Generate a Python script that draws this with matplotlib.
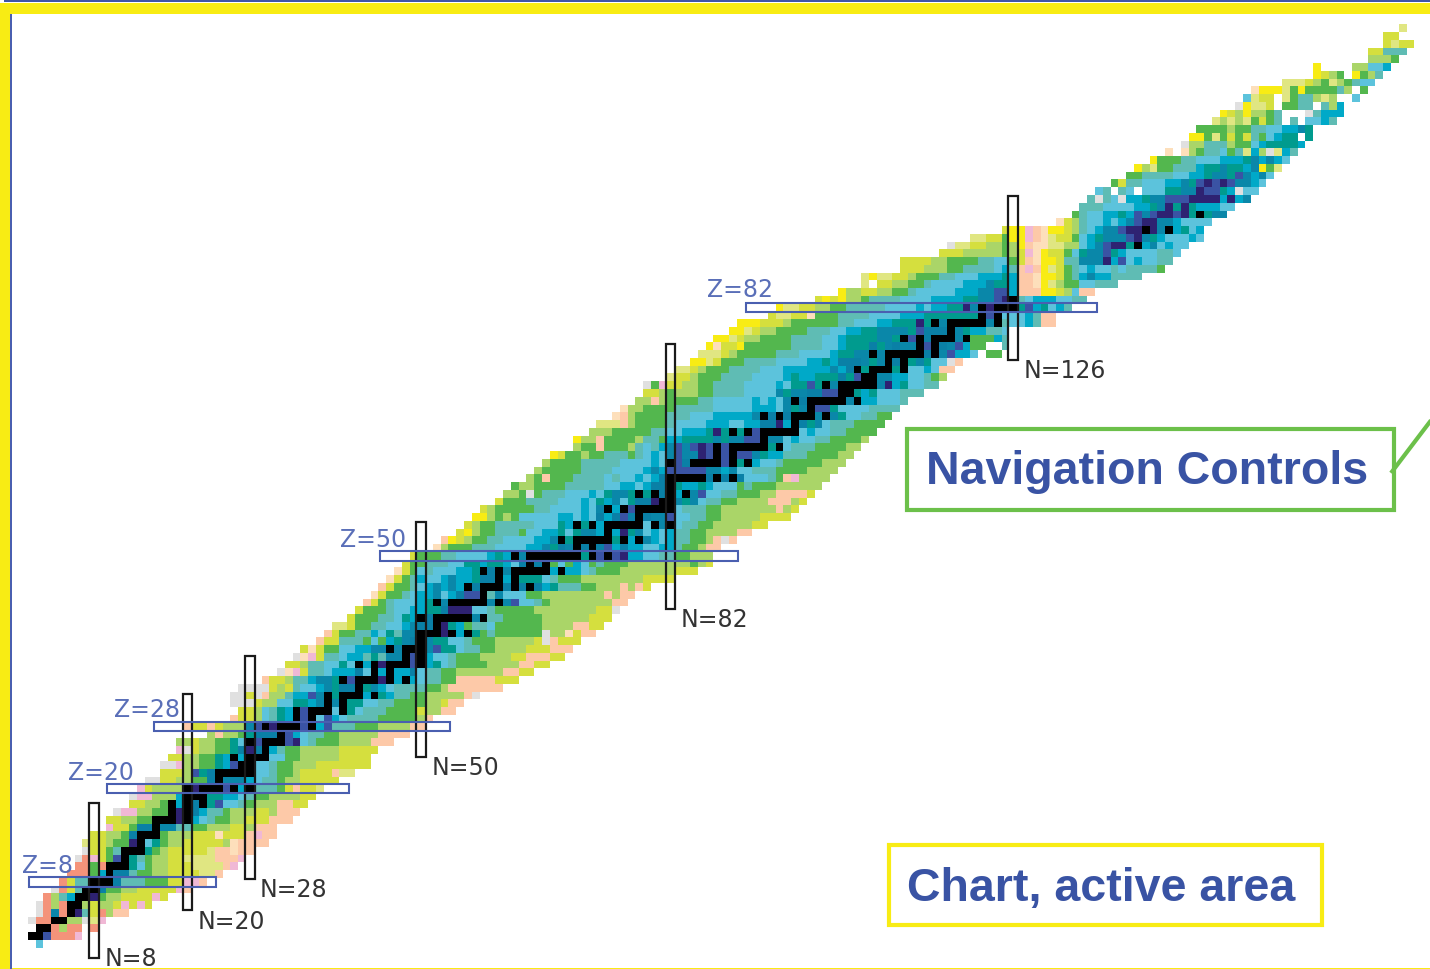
import numpy as np
import matplotlib
matplotlib.use('Agg')
import matplotlib.pyplot as plt
from matplotlib.colors import ListedColormap
from matplotlib.patches import Rectangle

# letter -> colour of one nuclide cell, w = no colour, s = black cell
palette = {
    'a': '#0a80a6', 'b': '#2e2272', 'c': '#3a53a4', 'd': '#0a87a9', 'e': '#00a9c8',
    'f': '#009b8e', 'g': '#5cc3dc', 'h': '#5fbcb4', 'i': '#53b74e', 'j': '#aad568',
    'k': '#d5df3e', 'l': '#e0e682', 'm': '#f8ec14', 'n': '#fdc9a8', 'o': '#fddfbb',
    'p': '#f0b8d5', 'q': '#e0e0e0', 'r': '#f4937a', 'w': '#ffffff', 's': '#000000',
}

# first N of each row, index = Z
row_start = [1, 0, 1, 0, 1, 1, 2, 3, 4, 5, 6, 6, 7, 7, 8, 10, 10, 11, 13, 13,
             14, 15, 17, 17, 18, 19, 19, 23, 20, 26, 27, 26, 26, 27, 30, 32, 33, 34, 35, 37,
             38, 39, 41, 42, 43, 44, 45, 46, 47, 48, 49, 52, 53, 55, 56, 57, 58, 60, 61, 62,
             64, 65, 66, 67, 70, 70, 72, 73, 75, 76, 78, 79, 79, 82, 83, 85, 86, 87, 88, 90,
             91, 95, 96, 101, 104, 107, 107, 112, 112, 117, 118, 121, 125, 132, 134, 135, 136, 137, 139, 141,
             142, 144, 146, 148, 149, 150, 152, 153, 155, 156, 157, 161, 165, 165, 172, 172, 174, 174, 176]

row_cells = [
    "g", "aacrrrp", "aarjrrwr", "qrraajjqlp", "qrdrabhkrjnn", "qrjraajkjjkpkpk",
    "rjheaabijjkkkkpk", "qrkhaaaiijjkkkkkpn", "rkhhaaaahhhiiikkppn", "rrrieaaahiijjkkkklln",
    "rrirhaafgijjkkkllllnp", "qrpkicafhijjkkllllnnnp", "qkkihaagfijkkkkklnnonn",
    "lkkjiibagfijjkkkkkjonnnn", "kkjjiaageijjjkkkokkknpnn", "pkkiaaaddhhiijjjkkjnnn",
    "kkjjiiaaabaeghiijjkkknnn", "qppjjiiabaaehhijjjkkjnnn", "kkjjiaeaaafcgghijjjnnkk",
    "qppjjjeaaeffeeghiijjjjkk", "pkjjjjabaaacaeahhhiknkkl", "qqkkjjiiaadddeghhijjkkkkk",
    "kkkjcfaaaaaagghiijkkkknll", "qqpjjiifecaagghiijjjkkkkkkk", "kkjjiifeaebaaggiijjjjjkkkk",
    "pqkjjiifabaaehiijjjjjkkkkk", "jjkjjiifgacdehcbghiiijjjjnnn", "jnjjifaaaaceghhiijjjjjnnnn",
    "nkknkjjjdcabaaacaechhhiiijjjjnn", "nkkjghfeacagceghhhhiiiiijn", "kkjghfeacaaagafghhhiiiikjjnn",
    "qqqkjjggffedadaffgghhiiiijjknn", "qqkqnjjheecdafagdeafehhiijjjjjnq",
    "qqqqkjkhggedfaaafdeghhhhiijnnnnnnn", "nkkjhheddfacdaabdeaeghhiinnnnnkkk",
    "qopkhhgeeeagaeaeeaghhiijjjjjjnnkk", "kkjhhggfgaeabaaacaefghiiiijjjjnnkk",
    "qopkhhgeehfhddacaegghiiijjjjkknnnkk", "kokiiggeeddadaaadcffghhiijjjjkkknnn",
    "nkkhhhigiefdaadffgghiiijjjjjkqnkkk", "nkiihhegfhddaaabfeafihiiiiiiqjjoknn",
    "llkiihhggedaaabfeihhgiiiiiijjjjnnkk", "kiiihhgfeaaaaaaadahhiiiiijjjjjjkkk",
    "kiiihggeeffabbbgghiiiiijjjjjjjjkkq", "nkihgggefadaaaaadadcgghijjjjjjjjnn",
    "okiihgeedgeaccahdgggiijjjjjjjjnjnn", "nkiihgedededafaaabaeaefhhhiijjjnjnk",
    "okiheggedeefaaaeafffghiiijjjjjjjjkkkk", "okighgggeefeaddaaahfeieeghiiijjjjjjjkkk",
    "kiihhhggffeffegahaeigiegihiiijjjjjjjjijk", "kiiihhggggefeadaaaaaaafacacbeegghhiijjj",
    "ojiiihhhggggeedfadeaaaceaeeggeehiijnn", "nmkjiihhggggeedafaaaaafaeadegehhiijnqn",
    "kmjiihhhiggeefgfddeaebfdgegehhiijjjjnn", "kjiihhhhhgggfeafaeeaedegadcghhiijjjjjkk",
    "mmjijigggggeegegaeacaeaddcgghhiijjjjjkkkk", "kjiiiiihhggggegdaeacaabaaghhhiijjjjjjjnjk",
    "kiiihhhhgggegfedgfaabaadfdghhiijjjjnnnjk", "jjiqihhhgggegfddfafbaaeadcgghhiiijjnnnnk",
    "ijjiiiihhhhhggeegeaaafeefegggihiiijjjjjj", "jiniiihhhhghggegeaaaaaaadaeaggghinpjjjj",
    "jiiiiihhhhggggedecccccddedgghhhiiiijjjj", "jiiiihhhhhggggegacaaaaaccfaegghiiiiijjj",
    "mkiijiihhhihgegdcddbcacaccdfeehhhiiiijj", "jiiniiijhghedcdcbcacaaaaafaghhhiiiijj",
    "mjjniiiijhhieeffffdfddccaddgegghhiiiij", "jjjiiiiihhggeeefbfafacaaadggegghhiiii",
    "lllnjiiiihggggeeeggeeaabeaafdghhhiiii", "onjiiiihhhgggeeeeedfaeaeaadadfgghhii",
    "ojjiiiihhhhhgggggeeegdfdaccfgggghhhh", "jjnjiiiihhgggggegegdfadaaaadaeegggh",
    "kkjijjjiihhhhggggdfddaaccaafefggghhh", "qipkkjjiihhhhggggegffcfadaaaaadbefgghh",
    "lkkjiiihhhhggggefeefffafcfaddeegghij", "llkjiiihhhhgggeeeeeedeacfaadfaggegnn",
    "mmlkiiihhhhggggeefeaaadfdaaafdfggqn", "lllkjiiiiihhhggggeffddaddaafcaadceegwii",
    "mokkmiiiiiihhhhggefffafdaddacaadceiiwwh", "mmlkjjiiiihhhhggeffffddfacfaaaddaiiieh",
    "mmlkjjiiiihhhggeeffddddfcaaaedfeehhg", "mmmkkkjiiiiiihhgggeefffbfadaaaaadhhggehnn",
    "kllkkoiiihhhhggggeeefffffffdcagggehnn", "mllkkjjiihhhhhggggegeeffbdabaaafcefgeh",
    "kmkmjjihhhhggggeeeeffddcbahgeeegghh", "mjjkkjjiihgggggeeeddccennnmmkjgnn",
    "lwkkjjiihggggeeedffennomljiigghhh", "lmllkkjiiihhgggeeefennommkihedeehhhh",
    "kkkjjjiihhhhgehnpnmlkihgegghghhhhi", "kkkkjjiiiihhggiknommkhhdddbecgegghh",
    "kkkjjjjjijkpomkkigfddcfegggghhg", "qllkkjjijmnoolljjgedcbbfaedgegg",
    "llkkimmpnolkkigefdddcbdfegggeg", "kmmpnommkjhgeddcbbabdaefge", "okjhggegedcbbddegggg",
    "ihggeefecdcbbcbfafdd", "hhhggggeefdbfbfeeegg", "hqhgqeefddcccbbbbebed", "ghwhgwgggffddbccfeqgg",
    "ikhhgggeedfcbcbcddeg", "iihhhhggeefddfcdedg", "mjliihhheffdffedmil", "miiihhgggeeefdedeg",
    "owojihhgihlejqleh", "qjjhhhjiigeffffe", "mmilikikhigeffwf", "iiiijiihhggeedf",
    "ljljlikihwhwggeh", "mkjmjjihwwwqheee", "qmllkwiihhwhje", "glkkwlihhjljwwg",
    "ommmlimiiiihjwi", "lllkjiljihgg", "mkjiwmijh", "mwwwwjjgge", "jjji", "kkhhh", "klkk", "kk", "l",
]

# black cells, Z -> N
black_cells = {
    1: [0, 1], 2: [1, 2], 3: [3, 4], 4: [5], 5: [5, 6], 6: [6, 7], 7: [7, 8], 8: [8, 9, 10],
    9: [10], 10: [10, 11, 12], 11: [12], 12: [12, 13, 14], 13: [14], 14: [14, 15, 16], 15: [16],
    16: [16, 17, 18, 20], 17: [18, 20], 18: [18, 20, 22], 19: [20, 21, 22],
    20: [20, 22, 23, 24, 26, 28], 21: [24], 22: [24, 25, 26, 27, 28], 23: [27, 28],
    24: [26, 28, 29, 30], 25: [30], 26: [28, 30, 31, 32], 27: [32], 28: [30, 32, 33, 34, 36],
    29: [34, 36], 30: [34, 36, 37, 38, 40], 31: [38, 40], 32: [38, 40, 41, 42, 44], 33: [42],
    34: [40, 42, 43, 44, 46, 48], 35: [44, 46], 36: [42, 44, 46, 47, 48, 50], 37: [48, 50],
    38: [46, 48, 49, 50], 39: [50], 40: [50, 51, 52, 54, 56], 41: [52],
    42: [50, 52, 53, 54, 55, 56, 58], 44: [52, 54, 55, 56, 57, 58, 60], 45: [58],
    46: [56, 58, 59, 60, 62, 64], 47: [60, 62], 48: [58, 60, 62, 63, 64, 65, 66, 68], 49: [64, 66],
    50: [62, 64, 65, 66, 67, 68, 69, 70, 72, 74], 51: [70, 72],
    52: [68, 70, 71, 72, 73, 74, 76, 78], 53: [74], 54: [70, 72, 74, 75, 76, 77, 78, 80, 82],
    55: [78], 56: [74, 76, 78, 79, 80, 81, 82], 57: [81, 82], 58: [78, 80, 82, 84], 59: [82],
    60: [82, 83, 84, 85, 86, 88, 90], 62: [82, 85, 86, 87, 88, 90, 92], 63: [88, 90],
    64: [88, 90, 91, 92, 93, 94, 96], 65: [94], 66: [90, 92, 94, 95, 96, 97, 98], 67: [98],
    68: [94, 96, 98, 99, 100, 102], 69: [100], 70: [98, 100, 101, 102, 103, 104, 106],
    71: [104, 105], 72: [102, 104, 105, 106, 107, 108], 73: [107, 108],
    74: [106, 108, 109, 110, 112], 75: [110, 112], 76: [108, 110, 111, 112, 113, 114, 116],
    77: [114, 116], 78: [112, 114, 116, 117, 118, 120], 79: [118],
    80: [116, 118, 119, 120, 121, 122, 124], 81: [122, 124], 82: [122, 124, 125, 126], 83: [126],
    90: [142], 92: [143, 146], 94: [150],
}

# magic numbers: gates drawn over the chart
n_gates = [8, 20, 28, 50, 82, 126]
n_gate_z_low = [-1.8, 4.3, 8.4, 24.1, 43.1, 75.3]
n_gate_z_high = [18.1, 32.2, 37.1, 54.3, 77.3, 96.4]
z_gates = [8, 20, 28, 50, 82]
z_gate_n_low = [-0.35, 9.67, 15.7, 44.7, 91.7]
z_gate_n_high = [23.66, 40.7, 53.7, 90.7, 136.7]

z_labels = ['Z=8', 'Z=20', 'Z=28', 'Z=50', 'Z=82']
z_label_xy = [(22, 866), (68, 773), (114, 710), (340, 540), (707, 290)]
n_labels = ['N=8', 'N=20', 'N=28', 'N=50', 'N=82', 'N=126']
n_label_xy = [(105, 959), (198, 922), (260, 890), (432, 768), (681, 620), (1024, 371)]

codes = list(palette.keys())
n_max = 181
grid = np.full((len(row_cells), n_max), codes.index('w'))
for z, cells in enumerate(row_cells):
    for i, c in enumerate(cells):
        grid[z, row_start[z] + i] = codes.index(c)
for z, ns in black_cells.items():
    grid[z, ns] = codes.index('s')

fig = plt.figure(figsize=(14.3, 9.7), dpi=100)

ax = fig.add_axes([0, 0, 1, 1])
ax.set_xlim(-4.07, 179.5)
ax.set_ylim(-3.24, 121.76)
ax.axis('off')
edges_n = np.arange(n_max + 1) - 0.5
edges_z = np.arange(len(row_cells) + 1) - 0.5
ax.pcolormesh(edges_n, edges_z, grid, cmap=ListedColormap(list(palette.values())),
              vmin=0, vmax=len(codes) - 1, shading='flat', antialiased=False)

for n, low, high in zip(n_gates, n_gate_z_low, n_gate_z_high):
    ax.add_patch(Rectangle((n - 0.62, low), 1.24, high - low, fill=False, ec='#1a1a1a', lw=1.6))
for z, low, high in zip(z_gates, z_gate_n_low, z_gate_n_high):
    ax.add_patch(Rectangle((low, z - 0.62), high - low, 1.24, fill=False, ec='#4a5fb0', lw=1.5))

# second axes in picture pixels for the frame and the call-outs
top = fig.add_axes([0, 0, 1, 1])
top.set_xlim(0, 1430)
top.set_ylim(970, 0)
top.axis('off')
top.patch.set_alpha(0)

top.add_patch(Rectangle((0, 4), 1430, 10.5, fc='#f8ec14', ec='none'))
top.add_patch(Rectangle((0, 4), 9.5, 966, fc='#f8ec14', ec='none'))
top.add_patch(Rectangle((4, 1), 1426, 2.2, fc='#3f55a6', ec='none'))
top.add_patch(Rectangle((10, 15), 2.2, 955, fc='#4a5fb0', ec='none'))
top.add_patch(Rectangle((12, 968.6), 1418, 1.4, fc='#f8ec14', ec='none'))

for s, (x, y) in zip(z_labels, z_label_xy):
    top.text(x, y, s, color='#5a6fb8', fontsize=17, ha='left', va='center', family='DejaVu Sans')
for s, (x, y) in zip(n_labels, n_label_xy):
    top.text(x, y, s, color='#333333', fontsize=17, ha='left', va='center', family='DejaVu Sans')

top.add_patch(Rectangle((906.5, 429.5), 487, 81, fill=False, ec='#6cc04a', lw=3))
top.plot([1391, 1432], [474, 420], color='#6cc04a', lw=3, solid_capstyle='butt')
top.text(926, 472, 'Navigation Controls', color='#3953a4', fontsize=33.5, fontweight='bold',
         family='Liberation Sans', ha='left', va='center')

top.add_patch(Rectangle((888.5, 846), 433, 80, fill=False, ec='#f8ec14', lw=3))
top.text(907, 889, 'Chart, active area', color='#3953a4', fontsize=33.5, fontweight='bold',
         family='Liberation Sans', ha='left', va='center')

fig.savefig('out.png', dpi=100)
